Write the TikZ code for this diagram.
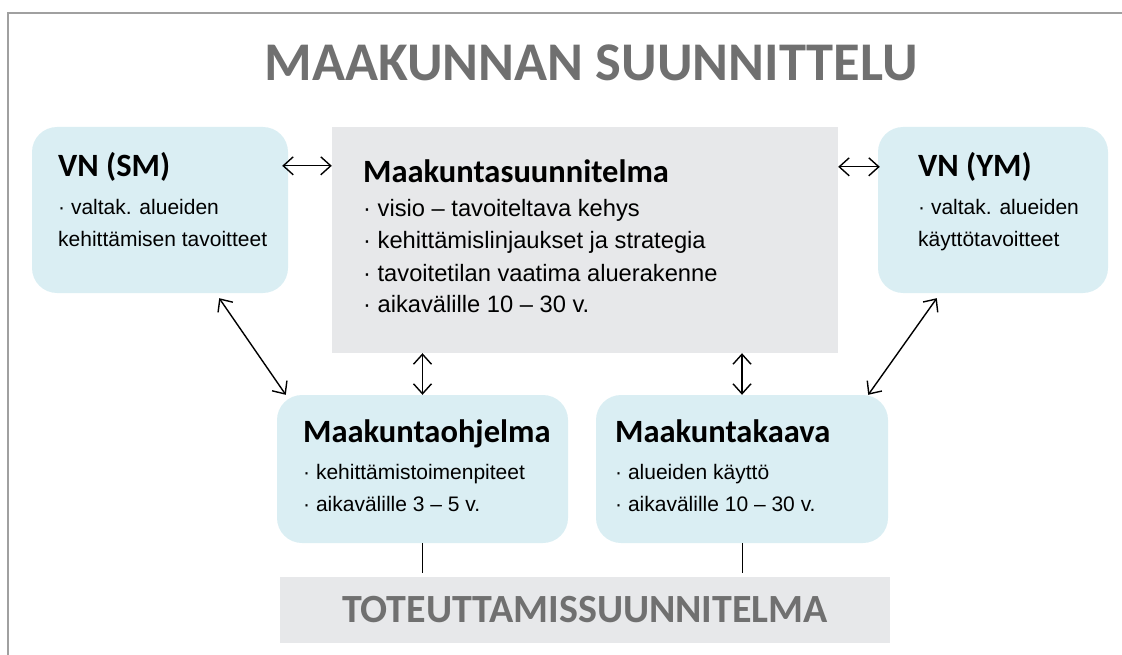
\documentclass[tikz,border=0pt]{standalone}
\usepackage{fontspec}
\setmainfont{Liberation Sans}
\newfontfamily\headfont{Carlito}
\usepackage{tikz}
\usetikzlibrary{positioning, calc, arrows.meta}
\definecolor{boxblue}{HTML}{DAEEF3}
\definecolor{boxgray}{HTML}{E7E8EA}
\definecolor{titlegray}{HTML}{707070}
\definecolor{framegray}{HTML}{A0A0A0}
\tikzset{
  bluebox/.style={fill=boxblue, rounded corners=25pt, inner sep=0pt},
  graybox/.style={fill=boxgray, inner sep=0pt},
  boxtitle/.style={anchor=base west, inner sep=0pt, font=\headfont\bfseries\fontsize{32.5}{38}\selectfont},
  smalltext/.style={anchor=base west, inner sep=0pt, font=\fontsize{21}{25}\selectfont},
  plantext/.style={anchor=base west, inner sep=0pt, font=\fontsize{23.7}{28}\selectfont},
  link/.style={<->, line width=1.4pt},
}

\begin{document}
\begin{tikzpicture}[x=1pt, y=-1pt, >={Straight Barb[length=10pt,width=18pt]}]
    \useasboundingbox (0,0) rectangle (1122,655);
    \draw[framegray, line width=1.5pt] (8,655) -- (8,13) -- (1122,13);
    \node[inner sep=0pt, text=titlegray, font=\headfont\bfseries\fontsize{54.5}{60}\selectfont] (title) at (591,63) {MAAKUNNAN SUUNNITTELU};
    % boxes
    \node[bluebox, minimum width=256pt, minimum height=166pt] (sm) at (160,210) {};
    \node[graybox, minimum width=506pt, minimum height=226pt] (plan) at (585,240) {};
    \node[bluebox, minimum width=230pt, minimum height=166pt] (ym) at (993,210) {};
    \node[bluebox, minimum width=291pt, minimum height=148pt] (ohj) at (422.5,469) {};
    \node[bluebox, minimum width=292pt, minimum height=148pt] (kaava) at (742,469) {};
    \node[graybox, minimum width=610pt, minimum height=66pt, text=titlegray, font=\headfont\bfseries\fontsize{40}{46}\selectfont] (toteutus) at (585,610) {TOTEUTTAMISSUUNNITELMA};
    % texts
    \node[boxtitle] (smT) at (58,177) {VN (SM)};
    \node[smalltext] (sm1) at (58,215) {· valtak. alueiden};
    \node[smalltext] (sm2) at (58,247) {kehittämisen tavoitteet};
    \node[boxtitle] (planT) at (363,183) {Maakuntasuunnitelma};
    \node[plantext] (plan1) at (363,217) {· visio – tavoiteltava kehys};
    \node[plantext] (plan2) at (363,249) {· kehittämislinjaukset ja strategia};
    \node[plantext] (plan3) at (363,281) {· tavoitetilan vaatima aluerakenne};
    \node[plantext] (plan4) at (363,312) {· aikavälille 10 – 30 v.};
    \node[boxtitle] (ymT) at (918,177) {VN (YM)};
    \node[smalltext] (ym1) at (918,215) {· valtak. alueiden};
    \node[smalltext] (ym2) at (918,247) {käyttötavoitteet};
    \node[boxtitle] (ohjT) at (303,442) {Maakuntaohjelma};
    \node[smalltext] (ohj1) at (303,479) {· kehittämistoimenpiteet};
    \node[smalltext] (ohj2) at (303,511) {· aikavälille 3 – 5 v.};
    \node[boxtitle] (kaavaT) at (615,442) {Maakuntakaava};
    \node[smalltext] (kaava1) at (615,479) {· alueiden käyttö};
    \node[smalltext] (kaava2) at (615,511) {· aikavälille 10 – 30 v.};
    % connectors
    \draw[link] ([shift={(-6,39)}]sm.north east) -- ([shift={(0,39)}]plan.north west);
    \draw[link] ([shift={(0,40)}]plan.north east) -- ([shift={(2,40)}]ym.north west);
    \draw[link] ([shift={(-69,5)}]sm.south east) -- ([shift={(9,0)}]ohj.north west);
    \draw[link] ([shift={(59,5)}]ym.south west) -- ([shift={(-20,0)}]kaava.north east);
    \draw[link] (ohj.north |- plan.south) -- (ohj.north);
    \draw[link] (kaava.north |- plan.south) -- (kaava.north);
    \draw[line width=1pt] (ohj.south) -- ([yshift=4pt]ohj.south |- toteutus.north);
    \draw[line width=1pt] (kaava.south) -- ([yshift=4pt]kaava.south |- toteutus.north);
\end{tikzpicture}
\end{document}
